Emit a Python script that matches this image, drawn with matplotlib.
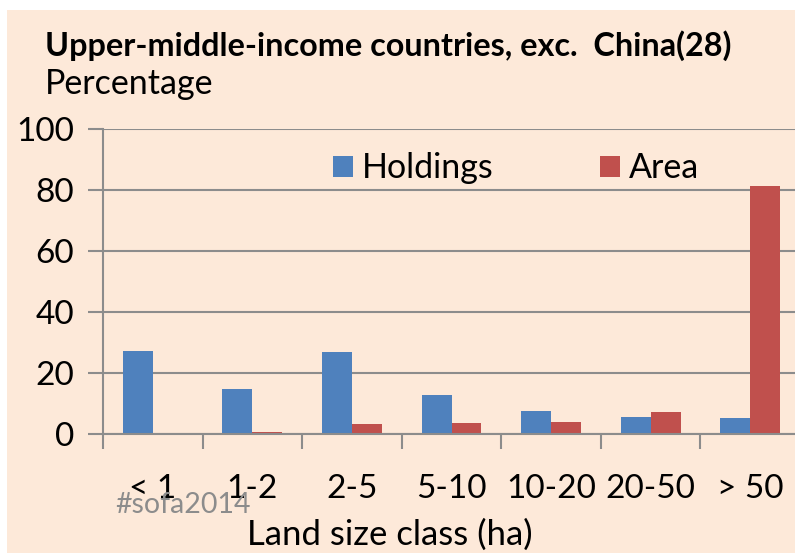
import matplotlib
matplotlib.use("Agg")
import matplotlib.pyplot as plt
from matplotlib.patches import Rectangle
import numpy as np

categories = ["< 1", "1-2", "2-5", "5-10", "10-20", "20-50", "> 50"]
holdings = [27.1, 14.7, 26.8, 12.7, 7.5, 5.5, 5.2]
area = [0.2, 0.6, 3.2, 3.5, 3.9, 7.1, 81.3]
yticks = [0, 20, 40, 60, 80, 100]

FONT = "Lato"
W, H = 795, 555
fig = plt.figure(figsize=(W / 100, H / 100), dpi=100)
fig.patch.set_facecolor("white")
bg = "#FDE9D9"


def fx(px):
    return px / W


def fy(py):
    return 1 - py / H


fig.patches.append(Rectangle((fx(7), fy(553)), 1, 543 / H, transform=fig.transFigure,
                             facecolor=bg, edgecolor="none", zorder=-5))

left, right, top, bottom = 103, 800, 129, 434
ax = fig.add_axes([fx(left), fy(bottom), fx(right - left), (bottom - top) / H])
ax.set_facecolor("none")
ax.set_zorder(2)

x = np.arange(len(categories))
w = 0.3
ax.bar(x - w / 2, holdings, w, color="#4F81BD", zorder=3, label="Holdings")
ax.bar(x + w / 2, area, w, color="#C0504D", zorder=3, label="Area")

ax.set_xlim(-0.5, len(categories) - 0.5)
ax.set_ylim(0, 100)
ax.set_yticks(yticks)
ax.set_yticklabels([str(v) for v in yticks], fontname=FONT, fontsize=24)
grid_c = "#8C8C8C"
ax.yaxis.grid(True, color=grid_c, linewidth=1.5, zorder=1)
ax.set_axisbelow(True)
for s in ["top", "right"]:
    ax.spines[s].set_visible(False)
for s in ["left", "bottom"]:
    ax.spines[s].set_color(grid_c)
    ax.spines[s].set_linewidth(1.5)
ax.spines["bottom"].set_zorder(4)
ax.tick_params(axis="y", length=11, width=1.5, color=grid_c, pad=10)
ax.set_xticks(np.arange(len(categories) + 1) - 0.5, minor=False)
ax.set_xticklabels([])
ax.tick_params(axis="x", which="major", length=11, width=1.5, color=grid_c)
ax.set_xticks(x, minor=True)
ax.set_xticklabels(categories, minor=True, fontname=FONT, fontsize=24)
ax.tick_params(axis="x", which="minor", length=0, pad=29)

# legend
for (px, lab, col) in [(333, "Holdings", "#4F81BD"), (600, "Area", "#C0504D")]:
    fig.patches.append(Rectangle((fx(px), fy(177)), 20 / W, 21 / H, transform=fig.transFigure,
                                 facecolor=col, edgecolor="none", zorder=5))
    fig.text(fx(px + 29), fy(168), lab, fontname=FONT, fontsize=24.5, va="center", ha="left")

fig.text(fx(45), fy(46), "Upper-middle-income countries, exc.  China(28)", fontname=FONT,
         fontsize=23.3, fontweight="bold", va="center", ha="left")
fig.text(fx(45), fy(84), "Percentage", fontname=FONT, fontsize=24.5, va="center", ha="left")
fig.text(fx(390), fy(535), "Land size class (ha)", fontname=FONT, fontsize=25, va="center", ha="center")
fig.text(fx(115), fy(505), "#sofa2014", fontname=FONT, fontsize=20.5, color="#8C8C8C",
         va="center", ha="left", zorder=10)

fig.savefig("out.png", dpi=100, facecolor=fig.get_facecolor())
